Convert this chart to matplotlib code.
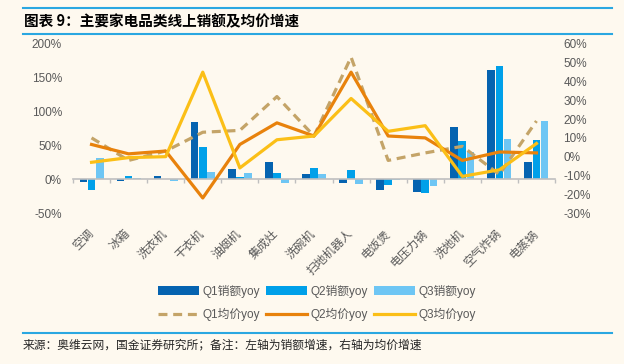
import numpy as np
import matplotlib
matplotlib.use("Agg")
import matplotlib.pyplot as plt
from matplotlib.lines import Line2D
from matplotlib.ticker import FixedLocator

plt.rcParams['font.family'] = ['Liberation Sans', 'Noto Sans CJK SC', 'DejaVu Sans']

categories = ['空调', '冰箱', '洗衣机', '干衣机', '油烟机', '集成灶', '洗碗机',
              '扫地机器人', '电饭煲', '电压力锅', '洗地机', '空气炸锅', '电蒸锅']

# sales yoy (left axis, %)
q1_sales = [-4, -2, 4, 85, 15, 25, 8, -6, -16, -19, 77, 162, 25]
q2_sales = [-16, 5, 1, 48, 3, 9, 17, 13, -9, -20, 56, 168, 58]
q3_sales = [31, 2, -2, 10, 9, -5, 8, -7, -1, -10, 40, 60, 86]

# average price yoy (right axis, %)
q1_price = [10, -2, 3, 13, 14, 32, 11, 53, -2, 2, 5.5, -9.5, 19]
q2_price = [6.5, 1.5, 3, -22, 6.5, 18, 11, 45, 11, 10, -2, 2.5, 2]
q3_price = [-3, -0.5, 0, 45, -6, 9, 11, 31, 13.5, 16.5, -10.5, -7, 7]

bg = '#FEF9EF'
grey = '#595959'
rule_blue = '#2AA7E1'

fig = plt.figure(figsize=(6.24, 3.64), dpi=100, facecolor=bg)
ax = fig.add_axes([73 / 624, 1 - 213 / 364, 482 / 624, 169 / 364])
ax.set_facecolor(bg)

x = np.arange(len(categories))
w = 0.22
b1 = ax.bar(x - w, q1_sales, w * 0.95, color='#0563B0', label='Q1销额yoy')
b2 = ax.bar(x, q2_sales, w * 0.95, color='#00A0E9', label='Q2销额yoy')
b3 = ax.bar(x + w, q3_sales, w * 0.95, color='#6EC6F4', label='Q3销额yoy')

ax.set_xlim(-0.5, len(categories) - 0.5)
ax.set_ylim(-50, 200)
ax.set_yticks([-50, 0, 50, 100, 150, 200])
ax.set_yticklabels([f'{v}%' for v in [-50, 0, 50, 100, 150, 200]])

for s in ['top', 'left', 'right']:
    ax.spines[s].set_visible(False)
ax.spines['bottom'].set_position(('data', 0))
ax.spines['bottom'].set_color('#BFBFBF')
ax.spines['bottom'].set_linewidth(1.2)

ax.set_xticks(x)
ax.set_xticklabels(categories, rotation=45, ha='right', va='center',
                   rotation_mode='anchor', fontsize=8.5, color=grey)
ax.xaxis.set_minor_locator(FixedLocator(np.arange(-0.5, len(categories), 1)))
ax.tick_params(axis='x', which='major', length=0, pad=38)
ax.tick_params(axis='x', which='minor', length=3, color='#BFBFBF', width=1)
ax.tick_params(axis='y', length=0, pad=8, labelsize=8.5, labelcolor=grey)

ax2 = ax.twinx()
for s in ['top', 'left', 'right', 'bottom']:
    ax2.spines[s].set_visible(False)
ax2.set_ylim(-30, 60)
ax2.set_yticks(np.arange(-30, 61, 10))
ax2.set_yticklabels([f'{v}%' for v in range(-30, 61, 10)])
ax2.tick_params(axis='y', length=0, pad=6, labelsize=8.5, labelcolor=grey)

l1, = ax2.plot(x, q1_price, color='#C4A468', lw=2.3, dashes=(2.8, 1.8),
               label='Q1均价yoy')
l2, = ax2.plot(x, q2_price, color='#E8820C', lw=2.3, label='Q2均价yoy')
l3, = ax2.plot(x, q3_price, color='#FBBF17', lw=2.3, label='Q3均价yoy')

handles = [b1, l1, b2, l2, b3, l3]
leg = fig.legend(handles, [h.get_label() for h in handles], loc='center',
                 bbox_to_anchor=(317 / 624, 1 - 303 / 364), ncol=3, frameon=False,
                 fontsize=8.5, handlelength=3.5, handletextpad=0.3,
                 columnspacing=0.5, labelspacing=0.9)
for t in leg.get_texts():
    t.set_color(grey)

# title and source
fig.text(24 / 624, 1 - 21 / 364, '图表 9：主要家电品类线上销额及均价增速',
         fontsize=10.5, fontweight='bold', va='center', color='black',
         family=['Noto Sans CJK SC', 'DejaVu Sans'])
fig.add_artist(Line2D([23 / 624, 612 / 624], [1 - 8 / 364] * 2,
                      transform=fig.transFigure, color=rule_blue, lw=1.5))
fig.add_artist(Line2D([23 / 624, 612 / 624], [1 - 34 / 364] * 2,
                      transform=fig.transFigure, color=rule_blue, lw=1.5))
fig.add_artist(Line2D([23 / 624, 612 / 624], [1 - 333 / 364] * 2,
                      transform=fig.transFigure, color=rule_blue, lw=1.5))
fig.text(23 / 624, 1 - 345 / 364,
         '来源：奥维云网，国金证券研究所；备注：左轴为销额增速，右轴为均价增速',
         fontsize=8.5, va='center', color='#262626',
         family=['Noto Sans CJK SC', 'DejaVu Sans'])

fig.savefig('out.png', dpi=100, facecolor=bg)
